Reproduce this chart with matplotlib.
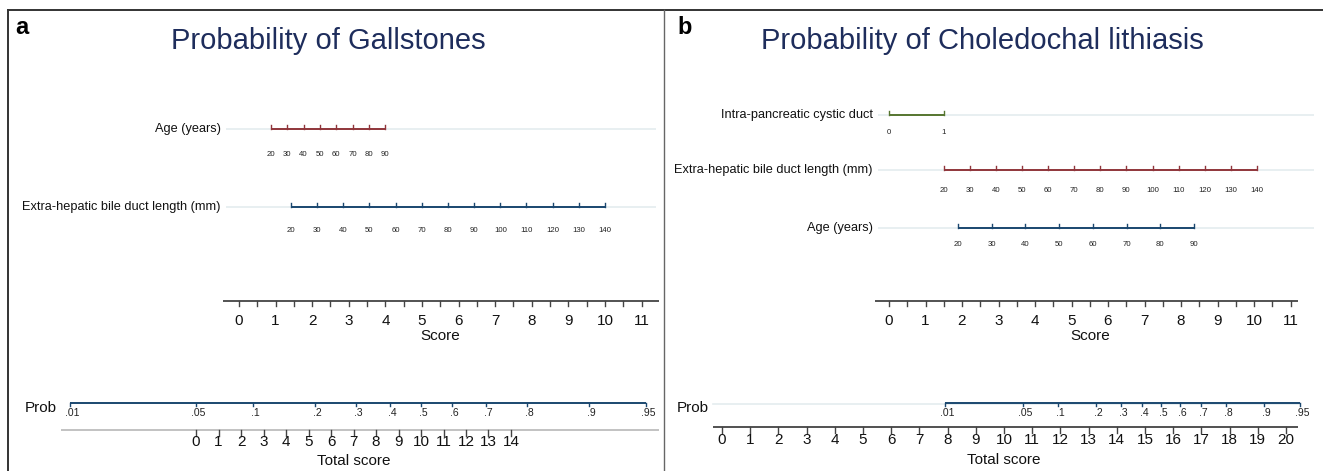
import matplotlib
matplotlib.use("Agg")
import matplotlib.pyplot as plt
import numpy as np
from matplotlib.lines import Line2D

plt.rcParams['font.family'] = ['Liberation Sans', 'DejaVu Sans']

W, H = 1323, 471

# ---------------- data ----------------
titles = ["Probability of Gallstones", "Probability of Choledochal lithiasis"]
panel_letters = ["a", "b"]

# panel a : variables (tick values and score at first / last value)
a_var_labels = ["Age (years)", "Extra-hepatic bile duct length (mm)"]
a_age_vals = [20, 30, 40, 50, 60, 70, 80, 90]
a_age_score_span = [0.87, 4.0]
a_ehbd_vals = [20, 30, 40, 50, 60, 70, 80, 90, 100, 110, 120, 130, 140]
a_ehbd_score_span = [1.42, 10.0]
a_score_ticks = list(range(0, 12))
a_total_ticks = list(range(0, 15))

# panel b
b_var_labels = ["Intra-pancreatic cystic duct", "Extra-hepatic bile duct length (mm)", "Age (years)"]
b_ipcd_vals = [0, 1]
b_ipcd_score_span = [0.0, 1.5]
b_ehbd_vals = [20, 30, 40, 50, 60, 70, 80, 90, 100, 110, 120, 130, 140]
b_ehbd_score_span = [1.5, 10.08]
b_age_vals = [20, 30, 40, 50, 60, 70, 80, 90]
b_age_score_span = [1.89, 8.36]
b_score_ticks = list(range(0, 12))
b_total_ticks = list(range(0, 21))

# probability scale (tick labels and their total-score positions)
prob_labels = [".01", ".05", ".1", ".2", ".3", ".4", ".5", ".6", ".7", ".8", ".9", ".95"]
a_prob_pos = [-5.61, 0.0, 2.54, 5.29, 7.12, 8.62, 10.0, 11.38, 12.88, 14.71, 17.46, 20.0]
b_prob_pos = [7.91, 10.66, 11.91, 13.26, 14.16, 14.90, 15.57, 16.25, 16.98, 17.88, 19.23, 20.48]

# ---------------- style ----------------
NAVY = "#1a476f"
MAROON = "#90353b"
GREEN = "#55752f"
GUIDE = "#e4ecef"
TITLE_C = "#1e2d5c"
AXC = "#444444"

fig = plt.figure(figsize=(W / 100, H / 100), dpi=100)
fig.patch.set_facecolor("white")


def fig_line(x0, y0, x1, y1, color="#333333", lw=1.2):
    fig.add_artist(Line2D([x0 / W, x1 / W], [1 - y0 / H, 1 - y1 / H],
                          transform=fig.transFigure, color=color, lw=lw))


# borders
fig_line(8, 10, W, 10, "#333333", 1.4)
fig_line(8, 10, 8, H, "#333333", 1.4)
fig_line(664, 10, 664, H, "#666666", 1.0)

panels = [
    dict(left=8, right=660, s0=239, sppu=36.6, t0=196, tppu=22.5,
         rows=[(a_var_labels[0], a_age_vals, a_age_score_span, 129, MAROON, 26),
               (a_var_labels[1], a_ehbd_vals, a_ehbd_score_span, 207, NAVY, 24)],
         label_right=221, score_ticks=a_score_ticks, score_line=(223, 659),
         total_ticks=a_total_ticks, total_line=(61, 659), total_line_c="#b8b8b8",
         total_y=430, total_lab_y=442, total_title_y=461,
         prob_pos=a_prob_pos, prob_label_x=25, prob_guide=None,
         letter_x=15, title_x=328),
    dict(left=665, right=1318, s0=889, sppu=36.5, t0=722, tppu=28.2,
         rows=[(b_var_labels[0], b_ipcd_vals, b_ipcd_score_span, 115, GREEN, 18),
               (b_var_labels[1], b_ehbd_vals, b_ehbd_score_span, 170, MAROON, 20),
               (b_var_labels[2], b_age_vals, b_age_score_span, 228, NAVY, 17)],
         label_right=873, score_ticks=b_score_ticks, score_line=(875, 1298),
         total_ticks=b_total_ticks, total_line=(713, 1298), total_line_c="#333333",
         total_y=427, total_lab_y=440, total_title_y=460,
         prob_pos=b_prob_pos, prob_label_x=677, prob_guide=(713, 1300),
         letter_x=677, title_x=982),
]

for i, p in enumerate(panels):
    rect = [p["left"] / W, 0, (p["right"] - p["left"]) / W, 1]
    axS = fig.add_axes(rect, label=f"score{i}")
    axT = fig.add_axes(rect, label=f"total{i}")
    s2px = lambda px, p=p: (px - p["s0"]) / p["sppu"]
    t2px = lambda px, p=p: (px - p["t0"]) / p["tppu"]
    axS.set_xlim(s2px(p["left"]), s2px(p["right"]))
    axT.set_xlim(t2px(p["left"]), t2px(p["right"]))
    for ax in (axS, axT):
        ax.set_ylim(H, 0)
        ax.axis("off")
        ax.patch.set_alpha(0)

    # panel letter & title (figure-pixel positions)
    axS.text(s2px(p["letter_x"]), 28, panel_letters[i], fontsize=17, fontweight="bold",
             ha="left", va="center", color="black")
    axS.text(s2px(p["title_x"]), 41, titles[i], fontsize=21, ha="center", va="center",
             color=TITLE_C)

    # variable rows
    for lab, vals, span, y, col, off in p["rows"]:
        sc = np.interp(vals, [vals[0], vals[-1]], span)
        axS.text(s2px(p["label_right"]), y, lab, fontsize=9.2, ha="right", va="center",
                 color="#111111")
        axS.plot([s2px(p["label_right"] + 5), s2px(p["right"] - 4)], [y, y],
                 color=GUIDE, lw=1.2, solid_capstyle="butt", zorder=1)
        axS.plot([sc[0], sc[-1]], [y, y], color=col, lw=1.4, zorder=3,
                 solid_capstyle="butt")
        for s, v in zip(sc, vals):
            axS.plot([s, s], [y, y - 4], color=col, lw=1.0, zorder=3)
            axS.text(s, y + off, str(v), fontsize=5.6, ha="center", va="center",
                     color="#222222")

    # Score axis
    y_s = 301
    axS.plot([s2px(p["score_line"][0]), s2px(p["score_line"][1])], [y_s, y_s],
             color=AXC, lw=1.3, solid_capstyle="butt")
    for t in p["score_ticks"]:
        axS.plot([t, t], [y_s, y_s + 5], color=AXC, lw=1.0)
        axS.text(t, 321, str(t), fontsize=11, ha="center", va="center", color="#111111")
        if t + 0.5 <= s2px(p["score_line"][1]):
            axS.plot([t + 0.5, t + 0.5], [y_s, y_s + 5], color=AXC, lw=1.0)
    axS.text(np.mean([s2px(p["score_line"][0]), s2px(p["score_line"][1])]) + 0.0 * 0,
             336, "", fontsize=11)
    mid_score = (p["score_ticks"][0] + p["score_ticks"][-1]) / 2
    axS.text(mid_score, 336, "Score", fontsize=11, ha="center", va="center",
             color="#111111")

    # Prob row
    y_p = 403
    axT.text(t2px(p["prob_label_x"]), 408, "Prob", fontsize=11, ha="left",
             va="center", color="#111111")
    if p["prob_guide"] is not None:
        axT.plot([t2px(p["prob_guide"][0]), t2px(p["prob_guide"][1])], [y_p + 1, y_p + 1],
                 color=GUIDE, lw=1.2, zorder=1)
    pp = p["prob_pos"]
    axT.plot([pp[0], pp[-1]], [y_p, y_p], color=NAVY, lw=1.4, zorder=3,
             solid_capstyle="butt")
    for pos, lab in zip(pp, prob_labels):
        axT.plot([pos, pos], [y_p, y_p + 3], color=NAVY, lw=1.0, zorder=3)
        axT.text(pos + 2.5 / p["tppu"], 413, lab, fontsize=7.5, ha="center",
                 va="center", color="#222222")

    # Total score axis
    y_t = p["total_y"]
    axT.plot([t2px(p["total_line"][0]), t2px(p["total_line"][1])], [y_t, y_t],
             color=p["total_line_c"], lw=1.2, solid_capstyle="butt")
    for t in p["total_ticks"]:
        axT.plot([t, t], [y_t, y_t + 6], color=AXC, lw=1.0)
        axT.text(t, p["total_lab_y"], str(t), fontsize=11, ha="center", va="center",
                 color="#111111")
    mid_total = (p["total_ticks"][0] + p["total_ticks"][-1]) / 2
    axT.text(mid_total, p["total_title_y"], "Total score", fontsize=11, ha="center",
             va="center", color="#111111")

fig.savefig("out.png", dpi=100, facecolor="white")
